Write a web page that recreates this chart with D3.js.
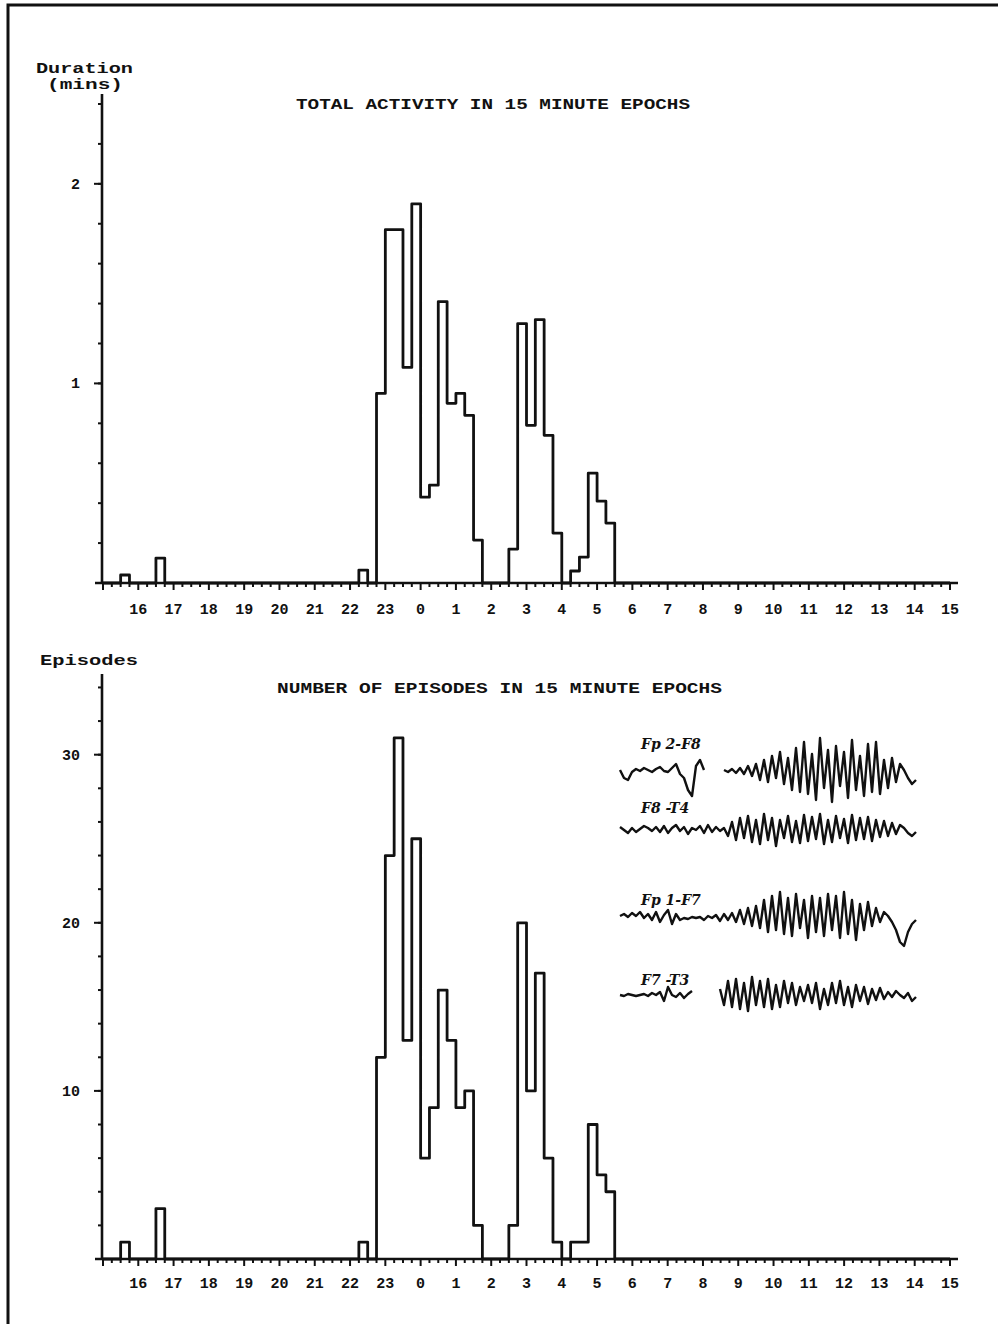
<!DOCTYPE html>
<html>
<head>
<meta charset="utf-8">
<script src="https://cdn.jsdelivr.net/npm/d3@7"></script>
<style>
  html, body { margin: 0; padding: 0; background: #fff; }
  svg { display: block; }
  text { font-family: "Liberation Mono", "DejaVu Sans Mono", monospace; font-weight: bold; fill: #111; }
</style>
</head>
<body>
<svg id="chart" width="998" height="1324"></svg>
<script>
// ---------- DATA ----------
// 15-minute epochs (start times); all epochs not listed are zero
const epochStarts = ["15:30","16:30","22:15",
  "22:45","23:00","23:15","23:30","23:45","00:00","00:15","00:30","00:45","01:00","01:15","01:30",
  "01:45","02:00","02:15","02:30","02:45","03:00","03:15","03:30","03:45","04:00","04:15","04:30",
  "04:45","05:00","05:15"];
const durationMins = [0.04, 0.125, 0.065,
  0.95, 1.77, 1.77, 1.08, 1.90, 0.43, 0.49, 1.41, 0.90, 0.95, 0.84, 0.215,
  0, 0, 0, 0.17, 1.30, 0.79, 1.32, 0.74, 0.25, 0, 0.06, 0.13,
  0.55, 0.41, 0.30];
const episodeCounts = [1, 3, 1,
  12, 24, 31, 13, 25, 6, 9, 16, 13, 9, 10, 2,
  0, 0, 0, 2, 20, 10, 17, 6, 1, 0, 1, 1,
  8, 5, 4];
const hourLabels = ["16","17","18","19","20","21","22","23","0","1","2","3","4","5","6","7","8","9","10","11","12","13","14","15"];
const durationTicks = [1, 2];
const episodeTicks = [10, 20, 30];
const topTitle = "TOTAL ACTIVITY IN 15 MINUTE EPOCHS";
const bottomTitle = "NUMBER OF EPISODES IN 15 MINUTE EPOCHS";

// EEG inset (approximate amplitudes sampled along each trace)
const eegLabels = ["Fp 2-F8", "F8 -T4", "Fp 1-F7", "F7 -T3"];
const eegFp2F8 = [2,-6,-8,0,3,1,4,2,0,3,5,1,0,4,8,-2,-6,-18,-24,6,12,2,null,null,null,null,2,
  0,3,-1,4,-2,6,-4,8,-8,12,-10,16,-6,20,-12,14,-18,24,-20,
  30,-22,18,-28,34,-16,22,-30,26,-14,20,-26,32,-18,16,-24,28,
  -20,30,-22,12,-16,14,-10,8,2,-6,-12,-8];
const eegF8T4 = [3,0,-3,2,-2,1,4,2,-1,3,-2,4,-3,2,5,-1,3,-4,2,0,4,-3,5,-2,3,-1,2,
  -6,8,-10,12,-8,14,-12,10,-14,16,-10,12,-16,10,-8,14,-12,9,-13,
  15,-11,13,-9,16,-14,10,-12,14,-8,11,-13,15,-10,12,-9,13,-11,10,-7,9,
  -6,7,-4,5,2,-3,-6,-2];
const eegFp1F7 = [2,4,1,5,2,6,0,4,-2,6,-4,3,8,-6,4,-2,0,-1,1,0,1,-2,2,0,3,-3,4,-2,5,-4,
  8,-6,10,-8,12,-10,18,-14,22,-12,26,-16,20,-18,24,-10,18,-20,22,-14,20,
  -18,24,-12,22,-20,26,-16,18,-22,14,-12,16,-8,10,-4,6,
  2,-4,-12,-24,-28,-14,-6,-2];
const eegF7T3 = [0,-1,1,0,-1,0,1,-1,2,0,3,-6,8,0,-2,2,-3,1,4,null,null,null,null,null,null,
  6,-10,14,-12,16,-14,12,-16,18,-10,14,-12,16,-14,10,-12,14,-8,12,-10,8,
  -6,10,-8,12,-14,6,-10,12,-8,14,-10,8,-12,10,-6,8,-9,6,-5,7,-4,
  3,-2,4,0,-3,2,-6,-2];

// ---------- HELPERS ----------
const svg = d3.select("#chart");
const INK = "#111";

// hours since 15:00 for an "HH:MM" epoch start
function hoursFrom15(s) {
  const [h, m] = s.split(":").map(Number);
  let v = h + m / 60 - 15;
  if (v < 0) v += 24;
  return v;
}

const x = d3.scaleLinear().domain([0, 24]).range([103, 950]);

// build full 96-epoch series (step outline)
function fullSeries(values) {
  const bins = d3.range(96).map(i => ({ t: i / 4, v: 0 }));
  epochStarts.forEach((s, i) => {
    const k = Math.round(hoursFrom15(s) * 4);
    bins[k].v = values[i];
  });
  bins.push({ t: 24, v: 0 });
  return bins;
}

function drawPanel(opts) {
  const { y, series, ticks, minorStep, yLabelX, title, titleX0, titleX1, titleY, labelY } = opts;
  const y0 = y.range()[0];
  const g = svg.append("g");

  // histogram outline
  const line = d3.line().x(d => x(d.t)).y(d => y(d.v)).curve(d3.curveStepAfter);
  g.append("path").datum(series).attr("d", line)
    .attr("fill", "none").attr("stroke", INK).attr("stroke-width", 2.8)
    .attr("stroke-linejoin", "round");

  // x-axis line
  g.append("line").attr("x1", 95).attr("x2", 958).attr("y1", y0).attr("y2", y0)
    .attr("stroke", INK).attr("stroke-width", 2.6);
  // x ticks every 15 min
  const xt = d3.range(0, 96 + 1).map(i => i / 4);
  g.selectAll(".xt").data(xt).join("line")
    .attr("x1", d => x(d)).attr("x2", d => x(d))
    .attr("y1", y0).attr("y2", d => y0 + (d % 1 === 0 ? 7 : 4))
    .attr("stroke", INK).attr("stroke-width", 2);
  // hour labels
  g.selectAll(".xl").data(hourLabels).join("text")
    .attr("x", (d, i) => x(i + 1)).attr("y", labelY)
    .attr("text-anchor", "middle").attr("font-size", 15).text(d => d);

  // y-axis
  const yTop = y.range()[1];
  g.append("line").attr("x1", x(0) - 1).attr("x2", x(0) - 1).attr("y1", y0).attr("y2", yTop)
    .attr("stroke", INK).attr("stroke-width", 2.6);
  const minor = d3.range(minorStep, y.domain()[1], minorStep);
  g.selectAll(".ym").data(minor).join("line")
    .attr("x1", x(0) - 5).attr("x2", x(0)).attr("y1", d => y(d)).attr("y2", d => y(d))
    .attr("stroke", INK).attr("stroke-width", 2);
  g.selectAll(".yt").data(ticks).join("line")
    .attr("x1", x(0) - 9).attr("x2", x(0)).attr("y1", d => y(d)).attr("y2", d => y(d))
    .attr("stroke", INK).attr("stroke-width", 2);
  g.selectAll(".yl").data(ticks).join("text")
    .attr("x", yLabelX).attr("y", d => y(d) + 5)
    .attr("text-anchor", "end").attr("font-size", 15).text(d => d);

  // title
  g.append("text").attr("x", titleX0).attr("y", titleY)
    .attr("font-size", 14).attr("textLength", titleX1 - titleX0).attr("lengthAdjust", "spacingAndGlyphs")
    .text(title);
}

// ---------- BORDER ----------
svg.append("path").attr("d", "M8,1324 L8,5 L998,5")
  .attr("fill", "none").attr("stroke", INK).attr("stroke-width", 3);

// ---------- TOP PANEL ----------
const yTopPanel = d3.scaleLinear().domain([0, 2.45]).range([583, 94]);
drawPanel({
  y: yTopPanel, series: fullSeries(durationMins), ticks: durationTicks, minorStep: 0.2,
  yLabelX: 80, title: topTitle, titleX0: 296, titleX1: 690, titleY: 109, labelY: 614
});
svg.append("text").attr("x", 36).attr("y", 73).attr("font-size", 15)
  .attr("textLength", 97).attr("lengthAdjust", "spacingAndGlyphs").text("Duration");
svg.append("text").attr("x", 47).attr("y", 89).attr("font-size", 15)
  .attr("textLength", 76).attr("lengthAdjust", "spacingAndGlyphs").text("(mins)");

// ---------- BOTTOM PANEL ----------
const yBotPanel = d3.scaleLinear().domain([0, 34.8]).range([1259, 674]);
drawPanel({
  y: yBotPanel, series: fullSeries(episodeCounts), ticks: episodeTicks, minorStep: 2,
  yLabelX: 80, title: bottomTitle, titleX0: 277, titleX1: 722, titleY: 693, labelY: 1288
});
svg.append("text").attr("x", 40).attr("y", 665).attr("font-size", 15)
  .attr("textLength", 98).attr("lengthAdjust", "spacingAndGlyphs").text("Episodes");

// ---------- EEG INSET ----------
const eegTraces = [eegFp2F8, eegF8T4, eegFp1F7, eegF7T3];
const eegBase = [772, 830, 918, 995];
const eegLabelPos = [[641, 749], [641, 813], [641, 905], [641, 985]];
const ex = d3.scaleLinear().domain([0, 74]).range([620, 916]);
eegTraces.forEach((tr, k) => {
  const ey = d3.scaleLinear().domain([-40, 40]).range([eegBase[k] + 40, eegBase[k] - 40]);
  const ln = d3.line().defined(d => d !== null).x((d, i) => ex(i)).y(d => ey(d));
  svg.append("path").datum(tr).attr("d", ln)
    .attr("fill", "none").attr("stroke", INK).attr("stroke-width", 2.4).attr("stroke-linejoin", "round");
  svg.append("text").attr("x", eegLabelPos[k][0]).attr("y", eegLabelPos[k][1])
    .attr("font-size", 14).attr("font-style", "italic")
    .style("font-family", "'DejaVu Serif', serif").text(eegLabels[k]);
});
</script>
</body>
</html>
